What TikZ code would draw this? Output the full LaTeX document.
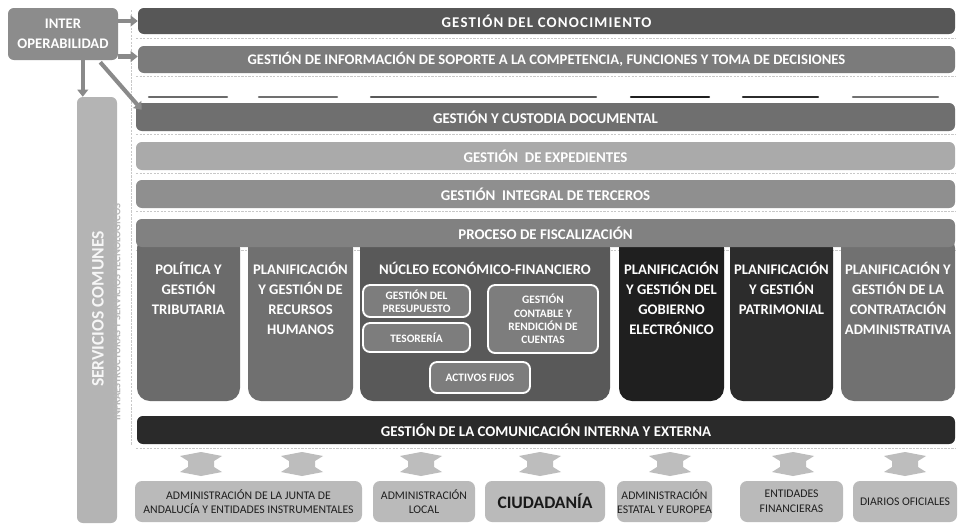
\documentclass[tikz,border=0pt]{standalone}
\usepackage{fontspec}
\setmainfont{Carlito}
\usetikzlibrary{arrows.meta,fit,calc}

\definecolor{cinter}{HTML}{8C8C8C}
\definecolor{cbandA}{HTML}{575757}
\definecolor{cbandB}{HTML}{7B7B7B}
\definecolor{cbandC}{HTML}{6F6F6F}
\definecolor{cbandD}{HTML}{AAAAAA}
\definecolor{cbandE}{HTML}{8F8F8F}
\definecolor{cbandF}{HTML}{818181}
\definecolor{ccolA}{HTML}{6B6B6B}
\definecolor{ccolB}{HTML}{707070}
\definecolor{ccolC}{HTML}{595959}
\definecolor{ccolD}{HTML}{1F1F1F}
\definecolor{ccolE}{HTML}{2C2C2C}
\definecolor{ccolF}{HTML}{717171}
\definecolor{cinner}{HTML}{7D7D7D}
\definecolor{ccomm}{HTML}{2A2A2A}
\definecolor{cflow}{HTML}{BDBDBD}
\definecolor{cext}{HTML}{BABABA}
\definecolor{cbar}{HTML}{B4B4B4}
\definecolor{clink}{HTML}{8A8A8A}
\definecolor{cdash}{HTML}{C8C8C8}

\tikzset{
  block/.style={inner sep=0pt, rounded corners=5pt, draw=none},
  bandtxt/.style={text=white, inner sep=0pt, font=\bfseries\fontsize{12.7}{14}\selectfont},
  coltxt/.style={text=white, align=center, inner sep=0pt, anchor=north,
    font=\bfseries\fontsize{12.5}{17}\selectfont},
  column/.style={inner sep=0pt, rounded corners=11pt, draw=none},
  innerbox/.style={fill=cinner, draw=white, line width=1.6pt, rounded corners=6pt, inner sep=0pt},
  innertxt/.style={text=white, align=center, inner sep=0pt,
    font=\bfseries\fontsize{9.7}{11.5}\selectfont},
  extbox/.style={fill=cext, inner sep=0pt, rounded corners=6pt},
  exttxt/.style={align=center, inner sep=0pt, text=black!88,
    font=\fontsize{10}{12.5}\selectfont},
  link/.style={draw=clink, line width=3.5pt, -{Triangle[length=6pt,width=9pt]}},
  shadowline/.style={draw=cdash, line width=0.6pt, dash pattern=on 2pt off 1pt},
}

\begin{document}
\begin{tikzpicture}[x=0.03cm, y=-0.03cm]
\useasboundingbox (0,0) rectangle (960,527);
\fill[white] (0,0) rectangle (960,527);

% dotted guide lines beside the stacked layers
\foreach \yy in {38,76,134,173,211,250,448}
  \draw[shadowline] (136,\yy) -- (955,\yy);
\draw[shadowline] (131,10) -- (131,445);

% interoperability block and the shared-services bar
\node[block, fill=cinter, fit={(8,8) (118,60)}] (inter) {};
\node[text=white, align=center, inner sep=0pt,
  font=\bfseries\fontsize{12.5}{17}\selectfont] at (inter) {INTER\\OPERABILIDAD};
\node[block, fill=cbar, fit={(77,97) (117,523)}] (bar) {};
\node[rotate=90, text=white!88!cbar, font=\bfseries\fontsize{15}{17}\selectfont]
  at (98,309) {SERVICIOS COMUNES};
\node[rotate=90, text=white!72!black, font=\bfseries\fontsize{9}{10}\selectfont]
  at (116,312) {INFRAESTRUCTURAS Y SERVICIOS TECNOLÓGICOS};

% upper horizontal layers
\node[block, fill=cbandA, fit={(138,8) (955,34)}] (b1) {};
\node[bandtxt, font={\bfseries\fontsize{12.7}{14}\selectfont\addfontfeature{LetterSpace=8}}]
  at (b1) {GESTIÓN DEL CONOCIMIENTO};
\node[block, fill=cbandB, fit={(138,46) (955,73)}] (b2) {};
\node[bandtxt, font=\bfseries\fontsize{12.5}{14}\selectfont] at (b2)
  {GESTIÓN DE INFORMACIÓN DE SOPORTE A LA COMPETENCIA, FUNCIONES Y TOMA DE DECISIONES};

% vertical functional columns
\node[column, fill=ccolA, fit={(137,235) (240,401)}] (c1) {};
\node[column, fill=ccolB, fit={(248,235) (353,401)}] (c2) {};
\node[column, fill=ccolC, fit={(360,235) (610,401)}] (c3) {};
\node[column, fill=ccolD, fit={(619,235) (724,401)}] (c4) {};
\node[column, fill=ccolE, fit={(730,235) (833,401)}] (c5) {};
\node[column, fill=ccolF, fit={(841,235) (955,401)}] (c6) {};

% column tops peeking above the transversal layers
\foreach \xa/\xb/\cc in {149/227/ccolA, 259/337/ccolB, 371/596/ccolC,
                         631/709/ccolD, 743/818/ccolE, 853/938/ccolF}
  \draw[\cc, line width=2pt, line cap=round] (\xa,97) -- (\xb,97);

% transversal layers
\node[block, fill=cbandC, fit={(136,103) (955,131)}] (b3) {};
\node[bandtxt] at (b3) {GESTIÓN Y CUSTODIA DOCUMENTAL};
\node[block, fill=cbandD, fit={(136,142) (955,170)}] (b4) {};
\node[bandtxt] at (b4) {GESTIÓN \ DE EXPEDIENTES};
\node[block, fill=cbandE, fit={(136,180) (955,208)}] (b5) {};
\node[bandtxt] at (b5) {GESTIÓN \ INTEGRAL DE TERCEROS};
\node[block, fill=cbandF, fit={(136,219) (955,247)}] (b6) {};
\node[bandtxt] at (b6) {PROCESO DE FISCALIZACIÓN};

% column titles
\node[coltxt] at (c1.north |- 0,262) {POLÍTICA Y\\GESTIÓN\\TRIBUTARIA};
\node[coltxt] at (c2.north |- 0,262) {PLANIFICACIÓN\\Y GESTIÓN DE\\RECURSOS\\HUMANOS};
\node[coltxt] at (c3.north |- 0,262) {NÚCLEO ECONÓMICO-FINANCIERO};
\node[coltxt] at (c4.north |- 0,262) {PLANIFICACIÓN\\Y GESTIÓN DEL\\GOBIERNO\\ELECTRÓNICO};
\node[coltxt] at (c5.north |- 0,262) {PLANIFICACIÓN\\Y GESTIÓN\\PATRIMONIAL};
\node[coltxt] at (c6.north |- 0,262) {PLANIFICACIÓN Y\\GESTIÓN DE LA\\CONTRATACIÓN\\ADMINISTRATIVA};

% economic-financial sub-modules
\node[innerbox, fit={(363,285) (470,317)}] (presu) {};
\node[innertxt] at (presu) {GESTIÓN DEL\\PRESUPUESTO};
\node[innerbox, fit={(363,323) (470,352)}] (teso) {};
\node[innertxt] at (teso) {TESORERÍA};
\node[innerbox, fit={(488,285) (598,353)}] (conta) {};
\node[innertxt] at (conta) {GESTIÓN\\CONTABLE Y\\RENDICIÓN DE\\CUENTAS};
\node[innerbox, fit={(430,362) (530,393)}] (activos) {};
\node[innertxt] at (activos) {ACTIVOS FIJOS};

% communication layer
\node[block, fill=ccomm, fit={(137,416) (955,444)}] (comm) {};
\node[bandtxt] at (comm) {GESTIÓN DE LA COMUNICACIÓN INTERNA Y EXTERNA};

% external actors
\node[extbox, fit={(135,481) (362,522)}] (e1) {};
\node[exttxt] at (e1) {ADMINISTRACIÓN DE LA JUNTA DE\\ANDALUCÍA Y ENTIDADES INSTRUMENTALES};
\node[extbox, fit={(373,481) (475,522)}] (e2) {};
\node[exttxt] at (e2) {ADMINISTRACIÓN\\LOCAL};
\node[extbox, fit={(485,481) (605,522)}] (e3) {};
\node[exttxt, text=black!90, font=\bfseries\fontsize{15}{17}\selectfont] at (e3) {CIUDADANÍA};
\node[extbox, fit={(617,481) (712,522)}] (e4) {};
\node[exttxt] at (e4) {ADMINISTRACIÓN\\ESTATAL Y EUROPEA};
\node[extbox, fit={(740,481) (843,522)}] (e5) {};
\node[exttxt] at (e5) {ENTIDADES\\FINANCIERAS};
\node[extbox, fit={(853,481) (957,522)}] (e6) {};
\node[exttxt] at (e6) {DIARIOS OFICIALES};

% two-way exchange markers between the communication layer and the actors
\foreach \cx in {201,302,421,540,670,793,905}
  \fill[cflow] (\cx-21,456) -- (\cx,452) -- (\cx+21,456) -- (\cx+13,461)
    -- (\cx+13,467) -- (\cx+21,472) -- (\cx,476) -- (\cx-21,472)
    -- (\cx-13,467) -- (\cx-13,461) -- cycle;

% interoperability links
\draw[link] (inter.east |- b1.west) -- (b1.west);
\draw[link] ($(inter.east |- b2.west)+(0,-3)$) -- ($(b2.west)+(0,-3)$);
\draw[link] ($(inter.south west)+(75,0)$) -- ($(bar.north west)+(6,0)$);
\draw[link] ($(inter.south east)+(-18,2)$) -- ($(b3.north west)+(6,7)$);
\end{tikzpicture}
\end{document}
